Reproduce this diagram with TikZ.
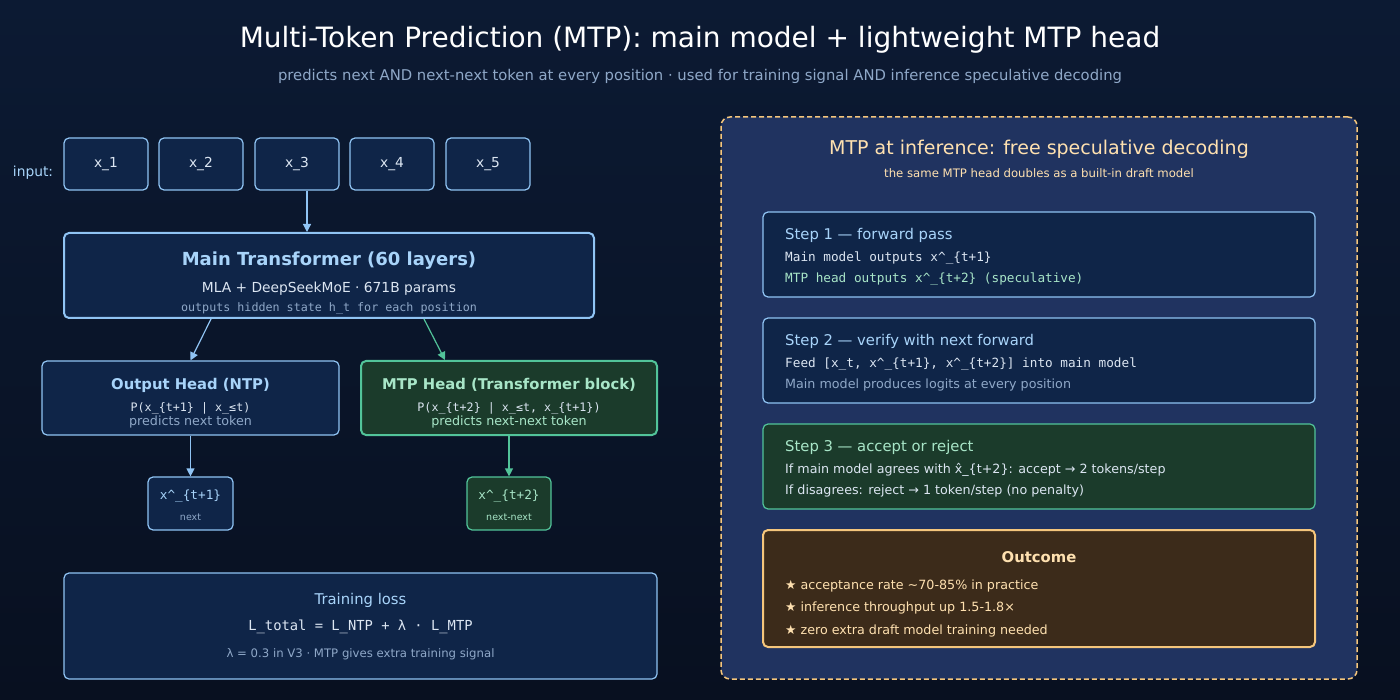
\documentclass[tikz,border=0pt]{standalone}
\usepackage{fontspec}
\setmainfont{DejaVu Sans}
\setmonofont{DejaVu Sans Mono}
\usetikzlibrary{arrows.meta,positioning}
\definecolor{bgtop}{HTML}{0C1A33}
\definecolor{bgbot}{HTML}{081020}
\definecolor{panel}{HTML}{203360}
\definecolor{boxfill}{HTML}{0F2548}
\definecolor{boxline}{HTML}{90C4F4}
\definecolor{grfill}{HTML}{1B3B2B}
\definecolor{grline}{HTML}{52C49A}
\definecolor{grtext}{HTML}{A8E6C8}
\definecolor{orfill}{HTML}{3C2B1A}
\definecolor{orline}{HTML}{F5C67C}
\definecolor{ortext}{HTML}{FFE1B0}
\definecolor{lbl}{HTML}{A8D4FA}
\definecolor{dim}{HTML}{8FA8C8}
\definecolor{soft}{HTML}{DCE6F2}
\newcommand{\fs}[1]{\fontsize{#1}{#1}\selectfont}
\tikzset{
  box/.style={draw=boxline, fill=boxfill, rounded corners=5pt, line width=1.2pt, inner sep=0pt},
  gbox/.style={box, draw=grline, fill=grfill},
  obox/.style={box, draw=orline, fill=orfill},
  arr/.style={-{Triangle[length=8pt,width=8pt]}, line width=1.2pt, draw=boxline},
  garr/.style={arr, draw=grline},
  txt/.style={inner sep=0pt, font=\fs{13.8}},
  lft/.style={txt, anchor=west},
}
\begin{document}
\begin{tikzpicture}[x=1pt,y=-1pt]
% Hintergrund
\shade[top color=bgtop, bottom color=bgbot] (0,0) rectangle (1400,700);
\useasboundingbox (0,0) rectangle (1400,700);
% Titel
\node[txt, text=white, font=\fs{28}] (title) at (700,40) {Multi-Token Prediction (MTP): main model + lightweight MTP head};
\node[txt, text=dim, font=\fs{14.8}] (sub) at (700,76) {predicts next AND next-next token at every position · used for training signal AND inference speculative decoding};
% Eingabe-Token
\node[txt, text=lbl] (inlbl) at (33,173) {input:};
\foreach \i/\x in {1/106,2/201,3/297,4/392,5/488}
  \node[box, minimum width=84pt, minimum height=52pt, text=soft, font=\fs{13.8}] (x\i) at (\x,164) {x\_\i};
% Hauptmodell
\node[box, line width=2pt, minimum width=530pt, minimum height=85pt] (main) at (329,275.5) {};
\node[txt, text=lbl, font=\fs{18}\bfseries] (mainT) at (329,261) {Main Transformer (60 layers)};
\node[txt, text=soft] (mainA) at (329,289) {MLA + DeepSeekMoE · 671B params};
\node[txt, text=dim, font=\fs{11.7}\ttfamily] (mainB) at (329,308) {outputs hidden state h\_t for each position};
\draw[arr] ([xshift=10pt]x3.south) -- ([xshift=10pt]x3.south |- main.north);
% Köpfe
\node[box, minimum width=297pt, minimum height=74pt] (ntp) at (190.5,398) {};
\node[txt, text=lbl, font=\fs{14.8}\bfseries] at (190.5,385) {Output Head (NTP)};
\node[txt, text=soft, font=\fs{11.7}\ttfamily] at (190.5,408) {P(x\_\{t+1\} | x\_≤t)};
\node[txt, text=dim, font=\fs{12.7}] at (190.5,422) {predicts next token};
\node[gbox, line width=2pt, minimum width=296pt, minimum height=74pt] (mtp) at (509,398) {};
\node[txt, text=grtext, font=\fs{14.8}\bfseries] at (509,385) {MTP Head (Transformer block)};
\node[txt, text=soft, font=\fs{11.7}\ttfamily] at (509,408) {P(x\_\{t+2\} | x\_≤t, x\_\{t+1\})};
\node[txt, text=grtext, font=\fs{12.7}] at (509,422) {predicts next-next token};
\draw[arr] ([xshift=-118pt]main.south) -- (ntp.north);
\draw[garr] ([xshift=95pt]main.south) -- ([xshift=-64pt]mtp.north);
% Vorhersagen
\node[box, minimum width=85pt, minimum height=53pt] (p1) at (190.5,503.5) {};
\node[txt, text=lbl, font=\fs{12.7}\ttfamily] at (190.5,496) {x\^{}\_\{t+1\}};
\node[txt, text=dim, font=\fs{9.5}] at (190.5,517) {next};
\node[gbox, minimum width=84pt, minimum height=53pt] (p2) at (509,503.5) {};
\node[txt, text=grtext, font=\fs{12.7}\ttfamily] at (509,496) {x\^{}\_\{t+2\}};
\node[txt, text=grtext, font=\fs{9.5}] at (509,517) {next-next};
\draw[arr] (ntp) -- (p1);
\draw[garr] (mtp) -- (p2);
% Verlust
\node[box, minimum width=593pt, minimum height=106pt] (loss) at (360.5,626) {};
\node[txt, text=lbl, font=\fs{14.8}] at (360.5,600) {Training loss};
\node[txt, text=soft, font=\fs{13.8}\ttfamily] at (360.5,627) {L\_total = L\_NTP + λ · L\_MTP};
\node[txt, text=dim, font=\fs{11.7}] at (360.5,654) {λ = 0.3 in V3 · MTP gives extra training signal};
% Rechte Tafel
\node[draw=orline, fill=panel, dash pattern=on 5pt off 3pt, line width=1.5pt, rounded corners=9pt, minimum width=636pt, minimum height=562pt, inner sep=0pt] (pnl) at (1039,398) {};
\node[txt, text=ortext, font=\fs{19}] at (1039,149) {MTP at inference: free speculative decoding};
\node[txt, text=ortext, font=\fs{11.7}] at (1039,173) {the same MTP head doubles as a built-in draft model};
\node[box, minimum width=552pt, minimum height=85pt] (s1) at (1039,254.5) {};
\node[lft, text=lbl, font=\fs{14.8}] at (785,235) {Step 1 — forward pass};
\node[lft, text=soft, font=\fs{12.7}\ttfamily] at (785,258) {Main model outputs x\^{}\_\{t+1\}};
\node[lft, text=grtext, font=\fs{12.7}\ttfamily] at (785,279) {MTP head outputs x\^{}\_\{t+2\} (speculative)};
\node[box, minimum width=552pt, minimum height=85pt] (s2) at (1039,360.5) {};
\node[lft, text=lbl, font=\fs{14.8}] at (785,341) {Step 2 — verify with next forward};
\node[lft, text=soft, font=\fs{12.7}\ttfamily] at (785,364) {Feed [x\_t, x\^{}\_\{t+1\}, x\^{}\_\{t+2\}] into main model};
\node[lft, text=dim, font=\fs{12.7}] at (785,385) {Main model produces logits at every position};
\node[gbox, minimum width=552pt, minimum height=85pt] (s3) at (1039,466.5) {};
\node[lft, text=grtext, font=\fs{14.8}] at (785,447) {Step 3 — accept or reject};
\node[lft, text=soft, font=\fs{12.7}] at (785,470) {If main model agrees with x̂\_\{t+2\}: accept → 2 tokens/step};
\node[lft, text=soft, font=\fs{12.7}] at (785,491) {If disagrees: reject → 1 token/step (no penalty)};
\node[obox, line width=2pt, minimum width=552pt, minimum height=117pt] (res) at (1039,588.5) {};
\node[txt, text=ortext, font=\fs{14.8}\bfseries] at (1039,557) {Outcome};
\node[lft, text=ortext, font=\fs{12.7}] at (785,586) {★ acceptance rate \textasciitilde70-85\% in practice};
\node[lft, text=ortext, font=\fs{12.7}] at (785,608) {★ inference throughput up 1.5-1.8×};
\node[lft, text=ortext, font=\fs{12.7}] at (785,631) {★ zero extra draft model training needed};
\end{tikzpicture}
\end{document}
